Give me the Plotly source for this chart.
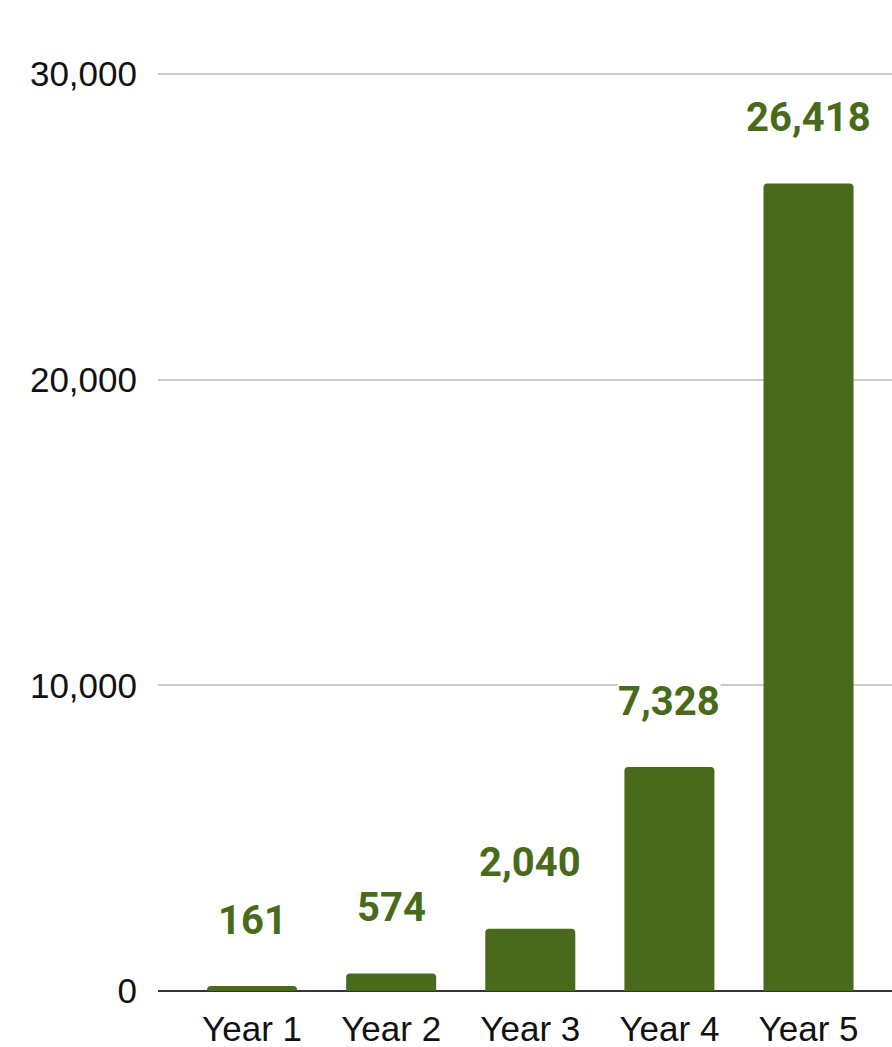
import plotly.graph_objects as go

years = ["Year 1", "Year 2", "Year 3", "Year 4", "Year 5"]
values = [161, 574, 2040, 7328, 26418]
y_ticks = [0, 10000, 20000, 30000]
y_tick_labels = ["0", "10,000", "20,000", "30,000"]

bar_color = "#486A1A"
positions = list(range(len(years)))

fig = go.Figure(
    go.Bar(
        x=positions,
        y=values,
        width=0.647,
        marker=dict(color=bar_color, line=dict(width=0)),
        hoverinfo="skip",
    )
)

# value labels floating a fixed distance above each bar
for xi, v in zip(positions, values):
    fig.add_annotation(
        x=xi,
        y=v,
        text=f"{v:,}",
        showarrow=False,
        yanchor="middle",
        yshift=66,
        bgcolor="white",
        borderpad=0,
        font=dict(family="Roboto", size=40, color=bar_color, weight="bold"),
    )

fig.update_layout(
    width=892,
    height=1047,
    margin=dict(l=158, r=0, t=72, b=56, autoexpand=False),
    paper_bgcolor="white",
    plot_bgcolor="white",
    showlegend=False,
    barcornerradius=4,
    font=dict(family="Liberation Sans, Arial", size=35, color="#111111"),
)

fig.update_xaxes(
    tickvals=positions,
    ticktext=years,
    range=[-0.676, 4.600],
    showgrid=False,
    zeroline=False,
    showline=False,
    ticks="",
    automargin=False,
    ticklabelstandoff=14,
    tickfont=dict(size=35, color="#111111"),
)

fig.update_yaxes(
    range=[0, 30065],
    tickvals=y_ticks,
    ticktext=y_tick_labels,
    showgrid=True,
    gridcolor="#CCCCCC",
    gridwidth=2,
    zeroline=True,
    zerolinecolor="#333333",
    zerolinewidth=2,
    showline=False,
    ticks="",
    automargin=False,
    ticklabelstandoff=20,
    tickfont=dict(size=35, color="#111111"),
)

fig.write_html("out.html")
